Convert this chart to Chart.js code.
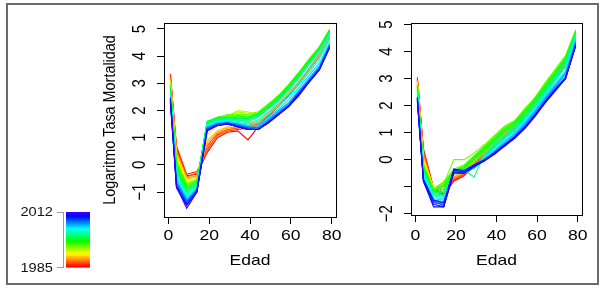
<!DOCTYPE html>
<html>
<head>
<meta charset="utf-8">
<script src="https://cdn.jsdelivr.net/npm/chart.js@4"></script>
<style>
html, body { margin: 0; padding: 0; background: #fff; width: 606px; height: 291px; overflow: hidden; }
#marco { position: absolute; left: 6px; top: 3px; width: 589px; height: 278px; border: 2px solid #6a6a6a; }
#graficoIzq { position: absolute; left: 0; top: 0; }
#graficoDer { position: absolute; left: 345px; top: 0; }
</style>
</head>
<body>
<div id="marco"></div>
<canvas id="graficoIzq" width="345" height="291"></canvas>
<canvas id="graficoDer" width="261" height="291"></canvas>
<script>
// --- Datos ---
const edades = [1, 4, 9, 14, 19, 24, 29, 34, 39, 44, 49, 54, 59, 64, 69, 74, 79];
const anios = [1985, 1986, 1987, 1988, 1989, 1990, 1991, 1992, 1993, 1994, 1995, 1996, 1997, 1998,
               1999, 2000, 2001, 2002, 2003, 2004, 2005, 2006, 2007, 2008, 2009, 2010, 2011, 2012];
const ticksEdad = [0, 20, 40, 60, 80];
const ticksIzq = [-1, 0, 1, 2, 3, 4, 5];
const etiquetasIzq = ['\u22121', '0', '1', '2', '3', '4', '5'];
const ticksDer = [-2, -1, 0, 1, 2, 3, 4, 5];
const etiquetasDer = ['\u22122', '', '0', '1', '2', '3', '4', '5'];

// log tasa de mortalidad, panel izquierdo (una fila por año)
const tasaIzq = [
    [3.30, 0.60, -0.40, -0.35, 0.45, 1.00, 1.20, 1.25, 0.92, 1.40, 1.80, 2.15, 2.55, 3.00, 3.50, 4.00, 4.70],
    [3.35, 0.70, -0.35, -0.25, 0.55, 1.10, 1.25, 1.30, 1.35, 1.45, 1.80, 2.15, 2.60, 3.00, 3.50, 4.00, 4.65],
    [3.25, 0.55, -0.45, -0.30, 0.70, 1.15, 1.30, 1.35, 1.40, 1.50, 1.85, 2.20, 2.60, 3.05, 3.55, 4.05, 4.70],
    [3.20, 0.50, -0.50, -0.40, 0.65, 1.05, 1.25, 1.40, 1.45, 1.55, 1.90, 2.25, 2.65, 3.05, 3.55, 4.10, 4.75],
    [3.15, 0.45, -0.45, -0.45, 0.80, 1.20, 1.35, 1.40, 1.50, 1.55, 1.85, 2.20, 2.60, 3.00, 3.50, 4.00, 4.65],
    [3.10, 0.40, -0.55, -0.40, 0.90, 1.25, 1.40, 1.50, 1.55, 1.60, 1.90, 2.25, 2.65, 3.10, 3.55, 4.05, 4.70],
    [3.05, 0.30, -0.60, -0.50, 1.10, 1.45, 1.55, 1.65, 1.70, 1.75, 2.05, 2.40, 2.80, 3.25, 3.75, 4.20, 4.85],
    [3.00, 0.25, -0.55, -0.55, 1.25, 1.60, 1.75, 1.90, 1.85, 1.90, 2.15, 2.50, 2.90, 3.35, 3.85, 4.30, 4.95],
    [2.95, 0.20, -0.65, -0.50, 1.30, 1.65, 1.80, 2.00, 1.95, 1.85, 2.20, 2.55, 2.90, 3.35, 3.85, 4.30, 4.90],
    [3.00, 0.15, -0.70, -0.55, 1.40, 1.70, 1.80, 1.95, 1.90, 1.90, 2.20, 2.50, 2.95, 3.40, 3.90, 4.35, 4.95],
    [2.90, 0.10, -0.70, -0.60, 1.45, 1.75, 1.85, 1.85, 1.85, 1.95, 2.25, 2.55, 2.95, 3.40, 3.90, 4.35, 5.00],
    [2.95, 0.05, -0.75, -0.55, 1.50, 1.70, 1.80, 1.80, 1.80, 1.90, 2.20, 2.55, 2.95, 3.40, 3.85, 4.30, 4.95],
    [2.85, 0.00, -0.80, -0.60, 1.55, 1.75, 1.75, 1.80, 1.75, 1.90, 2.20, 2.50, 2.90, 3.35, 3.85, 4.30, 4.95],
    [2.80, -0.10, -0.85, -0.65, 1.60, 1.70, 1.70, 1.75, 1.75, 1.85, 2.15, 2.50, 2.90, 3.35, 3.85, 4.30, 4.95],
    [2.75, -0.15, -0.90, -0.70, 1.60, 1.75, 1.75, 1.70, 1.70, 1.85, 2.15, 2.45, 2.85, 3.30, 3.80, 4.25, 4.90],
    [2.70, -0.25, -0.95, -0.70, 1.55, 1.70, 1.70, 1.70, 1.70, 1.80, 2.10, 2.45, 2.85, 3.30, 3.80, 4.25, 4.90],
    [2.65, -0.30, -1.00, -0.75, 1.55, 1.65, 1.70, 1.65, 1.65, 1.80, 2.10, 2.40, 2.80, 3.25, 3.75, 4.20, 4.85],
    [2.60, -0.40, -1.05, -0.80, 1.50, 1.65, 1.65, 1.65, 1.60, 1.75, 2.05, 2.35, 2.75, 3.20, 3.70, 4.20, 4.80],
    [2.60, -0.45, -1.10, -0.80, 1.50, 1.60, 1.65, 1.60, 1.55, 1.65, 1.95, 2.25, 2.60, 3.05, 3.55, 4.05, 4.70],
    [2.55, -0.50, -1.15, -0.85, 1.45, 1.60, 1.60, 1.55, 1.50, 1.55, 1.85, 2.15, 2.50, 2.95, 3.40, 3.90, 4.60],
    [2.50, -0.55, -1.20, -0.85, 1.40, 1.55, 1.60, 1.55, 1.45, 1.45, 1.75, 2.05, 2.40, 2.85, 3.30, 3.75, 4.50],
    [2.50, -0.60, -1.25, -0.90, 1.40, 1.55, 1.55, 1.50, 1.40, 1.40, 1.70, 2.00, 2.30, 2.75, 3.20, 3.65, 4.45],
    [2.45, -0.65, -1.30, -0.90, 1.35, 1.50, 1.55, 1.50, 1.40, 1.35, 1.65, 1.95, 2.25, 2.70, 3.15, 3.60, 4.40],
    [2.40, -0.70, -1.35, -0.95, 1.35, 1.50, 1.55, 1.45, 1.35, 1.35, 1.60, 1.90, 2.20, 2.65, 3.10, 3.55, 4.40],
    [2.40, -0.75, -1.40, -0.95, 1.30, 1.50, 1.55, 1.45, 1.35, 1.30, 1.60, 1.90, 2.20, 2.65, 3.10, 3.55, 4.35],
    [2.35, -0.80, -1.45, -0.95, 1.30, 1.45, 1.50, 1.40, 1.30, 1.30, 1.55, 1.85, 2.15, 2.60, 3.05, 3.50, 4.35],
    [2.30, -0.85, -1.50, -1.00, 1.25, 1.45, 1.50, 1.40, 1.30, 1.30, 1.55, 1.85, 2.15, 2.60, 3.05, 3.50, 4.30],
    [2.45, -0.80, -1.60, -1.00, 1.25, 1.45, 1.50, 1.40, 1.30, 1.30, 1.55, 1.85, 2.15, 2.55, 3.05, 3.50, 4.35]
];

// log tasa de mortalidad, panel derecho (una fila por año)
const tasaDer = [
    [3.05, 0.40, -1.05, -1.30, -0.80, -0.60, -0.25, 0.10, 0.45, 0.80, 1.10, 1.50, 1.95, 2.45, 2.95, 3.50, 4.50],
    [3.00, 0.35, -1.10, -1.25, -0.75, -0.55, -0.20, 0.15, 0.50, 0.85, 1.15, 1.55, 2.00, 2.50, 3.00, 3.55, 4.55],
    [2.95, 0.30, -1.10, -1.35, -0.70, -0.55, -0.20, 0.15, 0.50, 0.85, 1.15, 1.55, 2.00, 2.50, 3.00, 3.55, 4.55],
    [2.95, 0.20, -1.15, -1.20, -0.70, -0.50, -0.15, 0.20, 0.55, 0.90, 1.20, 1.60, 2.05, 2.55, 3.05, 3.60, 4.60],
    [2.90, 0.15, -1.10, -1.10, -0.65, -0.45, -0.10, 0.25, 0.60, 0.95, 1.25, 1.65, 2.10, 2.60, 3.10, 3.60, 4.60],
    [2.90, 0.05, -1.05, -1.00, -0.60, -0.40, -0.05, 0.30, 0.65, 1.00, 1.30, 1.70, 2.15, 2.65, 3.15, 3.65, 4.65],
    [2.85, 0.00, -1.05, -0.95, -0.55, -0.35, 0.00, 0.35, 0.70, 1.05, 1.35, 1.75, 2.20, 2.70, 3.20, 3.70, 4.70],
    [2.85, -0.05, -1.10, -0.90, -0.50, -0.30, 0.05, 0.40, 0.75, 1.10, 1.40, 1.80, 2.25, 2.75, 3.25, 3.75, 4.75],
    [2.80, -0.10, -1.05, -0.85, -0.45, -0.25, 0.10, 0.45, 0.80, 1.15, 1.40, 1.85, 2.25, 2.80, 3.30, 3.80, 4.80],
    [2.80, -0.15, -1.10, -0.80, -0.40, -0.25, 0.10, 0.45, 0.85, 1.20, 1.45, 1.85, 2.30, 2.80, 3.30, 3.80, 4.75],
    [2.75, -0.20, -1.15, -0.90, 0.00, 0.00, 0.25, 0.55, 0.90, 1.25, 1.45, 1.90, 2.30, 2.85, 3.35, 3.85, 4.80],
    [2.75, -0.20, -1.10, -0.85, -0.35, -0.20, 0.15, 0.50, 0.85, 1.20, 1.40, 1.85, 2.30, 2.80, 3.30, 3.80, 4.75],
    [2.70, -0.25, -1.15, -0.95, -0.40, -0.25, 0.10, 0.45, 0.80, 1.15, 1.40, 1.80, 2.25, 2.75, 3.25, 3.75, 4.75],
    [2.70, -0.30, -1.20, -1.00, -0.40, -0.30, 0.05, 0.40, 0.75, 1.10, 1.35, 1.75, 2.20, 2.70, 3.20, 3.70, 4.70],
    [2.65, -0.35, -1.25, -1.10, -0.45, -0.35, 0.00, 0.35, 0.70, 1.05, 1.30, 1.70, 2.15, 2.65, 3.15, 3.70, 4.70],
    [2.60, -0.40, -1.25, -1.20, -0.45, -0.40, -0.10, 0.30, 0.65, 1.00, 1.25, 1.65, 2.10, 2.60, 3.10, 3.65, 4.70],
    [2.55, -0.45, -1.30, -1.30, -0.45, -0.40, -0.64, 0.20, 0.55, 0.90, 1.20, 1.60, 2.05, 2.55, 3.05, 3.55, 4.65],
    [2.50, -0.50, -1.30, -1.35, -0.50, -0.45, -0.30, 0.15, 0.50, 0.85, 1.15, 1.55, 2.00, 2.50, 3.00, 3.50, 4.60],
    [2.45, -0.55, -1.35, -1.40, -0.45, -0.45, -0.30, 0.10, 0.45, 0.80, 1.10, 1.50, 1.95, 2.45, 2.95, 3.40, 4.55],
    [2.40, -0.60, -1.40, -1.45, -0.40, -0.50, -0.30, 0.05, 0.40, 0.75, 1.05, 1.45, 1.90, 2.40, 2.85, 3.30, 4.50],
    [2.35, -0.65, -1.45, -1.50, -0.35, -0.45, -0.30, 0.05, 0.35, 0.70, 1.00, 1.40, 1.85, 2.35, 2.80, 3.25, 4.45],
    [2.30, -0.70, -1.50, -1.55, -0.40, -0.45, -0.25, 0.00, 0.30, 0.65, 0.95, 1.35, 1.80, 2.30, 2.75, 3.20, 4.40],
    [2.30, -0.70, -1.55, -1.60, -0.35, -0.50, -0.30, 0.00, 0.30, 0.60, 0.90, 1.30, 1.75, 2.25, 2.70, 3.15, 4.35],
    [2.25, -0.75, -1.60, -1.65, -0.40, -0.45, -0.25, 0.00, 0.25, 0.55, 0.85, 1.25, 1.70, 2.20, 2.65, 3.05, 4.30],
    [2.25, -0.75, -1.55, -1.70, -0.45, -0.50, -0.25, -0.05, 0.25, 0.55, 0.80, 1.20, 1.65, 2.15, 2.60, 3.05, 4.25],
    [2.20, -0.80, -1.65, -1.75, -0.40, -0.45, -0.20, 0.00, 0.25, 0.50, 0.80, 1.20, 1.65, 2.15, 2.60, 3.00, 4.25],
    [2.15, -0.80, -1.75, -1.75, -0.50, -0.50, -0.25, -0.05, 0.20, 0.50, 0.80, 1.15, 1.60, 2.10, 2.55, 3.00, 4.20],
    [2.30, -0.75, -1.50, -1.60, -0.35, -0.40, -0.20, 0.00, 0.25, 0.55, 0.85, 1.20, 1.65, 2.15, 2.60, 3.00, 4.25]
];

// --- Estilo ---
const FUENTE = '"Liberation Sans", Arial, Helvetica, sans-serif';
const ESTIRADO = 1.17; // el original está algo ensanchado en horizontal

function colorAnio(i) {
    // paleta tipo rainbow(): rojo (1985) -> azul violáceo (2012)
    return 'hsl(' + (252 * i / (anios.length - 1)).toFixed(1) + ', 100%, 50%)';
}

function series(tabla) {
    return tabla.map((fila, i) => ({
        label: String(anios[i]),
        data: fila.map((v, k) => ({ x: edades[k], y: v })),
        borderColor: colorAnio(i),
        borderWidth: 1.1,
        pointRadius: 0,
        tension: 0,
        fill: false,
        order: anios.length - 1 - i
    }));
}

function texto(ctx, t, x, y, size, vertical, align) {
    ctx.save();
    ctx.translate(x, y);
    if (vertical) {
        ctx.rotate(-Math.PI / 2);
        ctx.scale(1, ESTIRADO);
    } else {
        ctx.scale(ESTIRADO, 1);
    }
    ctx.font = size + 'px ' + FUENTE;
    ctx.textAlign = align || 'center';
    ctx.textBaseline = 'middle';
    ctx.fillText(t, 0, 0);
    ctx.restore();
}

function leyenda(ctx) {
    const x0 = 66, ancho = 24, arriba = 212, abajo = 267;
    const h = (abajo - arriba) / anios.length;
    anios.forEach((a, i) => {
        ctx.fillStyle = colorAnio(i);
        ctx.fillRect(x0, abajo - (i + 1) * h, ancho, h + 0.6);
    });
    ctx.strokeStyle = '#9a9a9a';
    ctx.lineWidth = 1;
    ctx.beginPath();
    ctx.moveTo(63.5, arriba); ctx.lineTo(63.5, abajo + 1);
    ctx.moveTo(57, arriba + 0.5); ctx.lineTo(64, arriba + 0.5);
    ctx.moveTo(57, abajo + 0.5); ctx.lineTo(64, abajo + 0.5);
    ctx.stroke();
    ctx.fillStyle = '#111';
    texto(ctx, String(anios[anios.length - 1]), 53, arriba + 1, 12.5, false, 'right');
    texto(ctx, String(anios[0]), 53, abajo + 2, 12.5, false, 'right');
}

// caja, etiquetas y títulos al estilo R
const dibujoR = {
    id: 'dibujoR',
    afterDraw(chart, args, o) {
        const ctx = chart.ctx, a = chart.chartArea;
        const sx = chart.scales.x, sy = chart.scales.y;
        ctx.save();
        ctx.strokeStyle = '#000';
        ctx.lineWidth = 1;
        ctx.strokeRect(a.left + 0.5, a.top + 0.5, a.right - a.left, a.bottom - a.top);
        ctx.fillStyle = '#000';
        ticksEdad.forEach(v => texto(ctx, String(v), sx.getPixelForValue(v), 236, 15, false));
        o.ticks.forEach((v, k) => texto(ctx, o.etiquetas[k], a.left - 24, sy.getPixelForValue(v), 15, true));
        texto(ctx, 'Edad', (a.left + a.right) / 2, 261, 15, false);
        if (o.tituloY) texto(ctx, o.tituloY, 110, (a.top + a.bottom) / 2, 14.4, true);
        if (o.leyenda) leyenda(ctx);
        ctx.restore();
    }
};

function escalas(yMin, yMax, yTicks, altoX, anchoY) {
    const marcas = { display: true, drawOnChartArea: false, drawTicks: true, tickLength: 7, color: '#000', lineWidth: 1 };
    return {
        x: {
            type: 'linear', bounds: 'data', min: -2.12, max: 82.12,
            border: { display: false },
            grid: marcas,
            ticks: { display: false },
            afterBuildTicks: s => { s.ticks = ticksEdad.map(v => ({ value: v })); },
            afterFit: s => { s.height = altoX; }
        },
        y: {
            type: 'linear', bounds: 'data', min: yMin, max: yMax,
            border: { display: false },
            grid: marcas,
            ticks: { display: false },
            afterBuildTicks: s => { s.ticks = yTicks.map(v => ({ value: v })); },
            afterFit: s => { s.width = anchoY; }
        }
    };
}

function crear(id, tabla, yMin, yMax, yTicks, etiquetas, altoX, anchoY, padDer, extra) {
    return new Chart(document.getElementById(id).getContext('2d'), {
        type: 'line',
        data: { datasets: series(tabla) },
        options: {
            responsive: false,
            animation: false,
            events: [],
            layout: { padding: { top: 23, right: padDer, bottom: 0, left: 0 } },
            plugins: {
                legend: { display: false },
                tooltip: { enabled: false },
                dibujoR: Object.assign({ ticks: yTicks, etiquetas: etiquetas }, extra)
            },
            scales: escalas(yMin, yMax, yTicks, altoX, anchoY)
        },
        plugins: [dibujoR]
    });
}

crear('graficoIzq', tasaIzq, -1.92, 5.22, ticksIzq, etiquetasIzq, 74, 164, 9,
      { tituloY: 'Logaritmo Tasa Mortalidad', leyenda: true });
crear('graficoDer', tasaDer, -2.05, 5.06, ticksDer, etiquetasDer, 76, 66, 24, {});
</script>
</body>
</html>
